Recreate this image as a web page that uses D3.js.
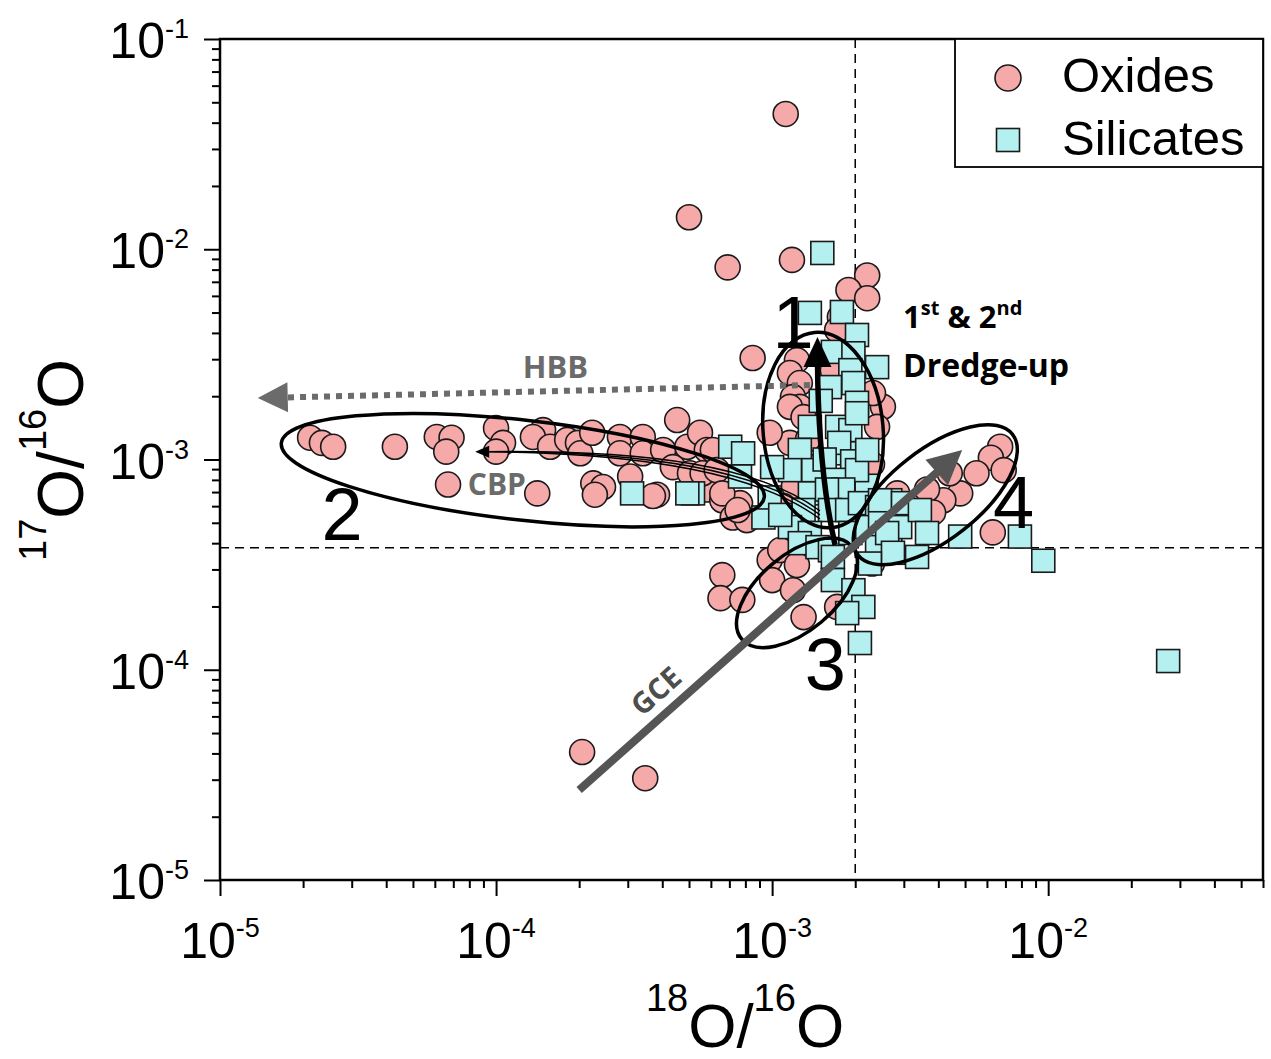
<!DOCTYPE html>
<html><head><meta charset="utf-8">
<script src="https://cdn.jsdelivr.net/npm/d3@7"></script>
<style>body{margin:0;background:#fff}svg{display:block}</style>
</head><body>
<svg id="c" width="1271" height="1059"></svg>
<script>
// ---------------- DATA ----------------
const xMajorTicks = [1e-5, 1e-4, 1e-3, 1e-2];
const xTickExponents = ["-5", "-4", "-3", "-2"];
const yMajorTicks = [1e-5, 1e-4, 1e-3, 1e-2, 1e-1];
const yTickExponents = ["-5", "-4", "-3", "-2", "-1"];
const seriesNames = ["Oxides", "Silicates"];
const solar18 = 2.0e-3;   // vertical dashed reference
const solar17 = 3.8e-4;   // horizontal dashed reference

// [18O/16O, 17O/16O]
const oxides = [
 [1.12e-3,4.4e-2],[5.0e-4,1.42e-2],[6.9e-4,8.2e-3],[1.18e-3,8.9e-3],[2.21e-3,7.5e-3],
 [1.89e-3,6.4e-3],[2.21e-3,5.85e-3],[1.76e-3,4.76e-3],[1.72e-3,4.13e-3],[8.5e-4,3.04e-3],
 [1.23e-3,2.97e-3],[1.16e-3,2.58e-3],[1.26e-3,2.31e-3],[1.19e-3,1.98e-3],[1.26e-3,1.78e-3],
 [1.66e-3,2.66e-3],[2.52e-3,1.78e-3],[2.32e-3,2.07e-3],[1.16e-3,1.78e-3],[1.30e-3,1.59e-3],
 [1.16e-3,1.2e-3],[9.8e-4,1.34e-3],[2.4e-3,1.43e-3],[2.3e-3,9.5e-4],[1.35e-3,1.25e-3],
 [1.5e-3,9.5e-4],[1.2e-3,7.5e-4],[1.1e-3,6.0e-4],
 [9.8e-4,3.33e-4],[1.07e-3,3.71e-4],[1.0e-3,2.67e-4],[1.23e-3,3.15e-4],[1.19e-3,2.39e-4],
 [1.30e-3,1.78e-4],[1.72e-3,1.99e-4],[6.6e-4,2.82e-4],[6.5e-4,2.19e-4],[7.8e-4,2.15e-4],
 [2.3e-3,3.2e-4],
 [2.12e-5,1.27e-3],[2.34e-5,1.2e-3],[2.57e-5,1.15e-3],[4.3e-5,1.15e-3],[6.1e-5,1.28e-3],
 [6.9e-5,1.27e-3],[6.6e-5,1.09e-3],[1.0e-4,1.41e-3],[1.06e-4,1.2e-3],[1.0e-4,1.09e-3],
 [6.7e-5,7.6e-4],[1.41e-4,6.9e-4],[1.48e-4,1.38e-3],[1.36e-4,1.28e-3],[1.57e-4,1.15e-3],
 [1.81e-4,1.24e-3],[1.98e-4,1.2e-3],[2.02e-4,1.07e-3],[2.23e-4,1.34e-3],[2.81e-4,1.28e-3],
 [2.81e-4,1.07e-3],[3.4e-4,1.28e-3],[3.4e-4,1.07e-3],[4.53e-4,1.54e-3],[4.03e-4,1.11e-3],
 [4.93e-4,1.15e-3],[5.48e-4,1.34e-3],[5.8e-4,1.11e-3],[4.37e-4,9.2e-4],[5.04e-4,8.6e-4],
 [3.06e-4,8.3e-4],[2.25e-4,7.7e-4],[2.44e-4,7.4e-4],[2.28e-4,6.8e-4],[3.83e-4,6.8e-4],
 [5.8e-4,7.2e-4],[6.1e-4,1.11e-3],[5.6e-4,8.6e-4],[6.6e-4,6.4e-4],[7.65e-4,6.2e-4],
 [7.2e-4,5.3e-4],[8.1e-4,5.15e-4],[6.3e-4,8.9e-4],[6.6e-4,6.9e-4],[7.5e-4,5.75e-4],
 [3.7e-4,6.7e-4],
 [6.7e-3,1.15e-3],[6.2e-3,1.02e-3],[6.9e-3,8.9e-4],[5.5e-3,8.6e-4],[4.8e-3,6.9e-4],
 [4.17e-3,6.4e-4],[4.4e-3,8.6e-4],[2.84e-3,6.9e-4],[3.64e-3,7.2e-4],[3.83e-3,5.6e-4],
 [6.3e-3,4.5e-4],
 [2.05e-4,4.06e-5],[3.47e-4,3.05e-5]
];
const silicates = [
 [1.52e-3,9.6e-3],[1.37e-3,4.98e-3],[1.79e-3,5.03e-3],[2.03e-3,3.91e-3],[1.66e-3,3.25e-3],
 [1.97e-3,3.2e-3],[2.4e-3,2.75e-3],[1.92e-3,2.66e-3],[1.62e-3,2.21e-3],[1.97e-3,2.31e-3],
 [1.5e-3,1.9e-3],[2.03e-3,1.86e-3],[1.37e-3,1.43e-3],[1.26e-3,1.11e-3],[1.16e-3,8.9e-4],
 [1.41e-3,8.9e-4],[1.72e-3,1.43e-3],[1.92e-3,1.38e-3],[2.03e-3,1.66e-3],[1.87e-3,1.07e-3],
 [1.75e-3,1.2e-3],[1.55e-3,1.0e-3],[1.95e-3,9.8e-4],[1.7e-3,8.0e-4],[2.2e-3,7.5e-4],
 [2.03e-3,8.9e-4],[2.21e-3,1.11e-3],[1.81e-3,7.2e-4],[1.37e-3,6.9e-4],[1.58e-3,7.2e-4],
 [1.30e-3,5.75e-4],[1.62e-3,5.75e-4],[1.87e-3,5.75e-4],[2.08e-3,6.2e-4],[2.4e-3,5.94e-4],
 [2.68e-3,6.4e-4],[1.16e-3,4.77e-4],[1.37e-3,4.47e-4],[1.26e-3,4.0e-4],[1.46e-3,3.83e-4],
 [1.62e-3,3.7e-4],[1.92e-3,4.47e-4],[2.21e-3,4.77e-4],[2.46e-3,5.15e-4],[2.68e-3,4.1e-4],
 [2.4e-3,3.83e-4],[7.05e-4,1.15e-3],[7.85e-4,1.07e-3],[7.65e-4,8.3e-4],[5.17e-4,6.9e-4],
 [9.3e-4,5.3e-4],[3.11e-4,6.9e-4],[4.93e-4,6.9e-4],[9.8e-4,6.6e-4],[1.07e-3,5.45e-4],
 [1.0e-3,9.2e-4],[2.46e-3,6.4e-4],[2.98e-3,6.2e-4],[2.91e-3,4.77e-4],[2.61e-3,4.47e-4],
 [3.43e-3,5.75e-4],[3.64e-3,4.47e-4],[2.74e-3,3.6e-4],[3.35e-3,3.44e-4],[4.8e-3,4.3e-4],
 [7.9e-3,4.3e-4],[9.6e-3,3.3e-4],[2.72e-2,1.1e-4],[1.66e-3,3.44e-4],[1.66e-3,2.67e-4],
 [1.97e-3,2.39e-4],[2.14e-3,1.99e-4],[1.87e-3,1.86e-4],[2.08e-3,1.34e-4],[2.26e-3,3.2e-4]
];

// Annotation anchors (data units)
const ellipses = [
 {cx:1.53e-3, cy:1.38e-3, rx:60, ry:98, rot:-5},
 {cx:1.25e-4, cy:8.9e-4, rx:243, ry:50, rot:6.4},
 {cx:1.23e-3, cy:2.32e-4, rx:72, ry:38, rot:-40},
 {cx:3.9e-3, cy:6.8e-4, rx:98, ry:45, rot:-38}
];
const groupLabels = [
 {t:"1", x:1.19e-3, y:3.39e-3},
 {t:"2", x:2.77e-5, y:4.14e-4},
 {t:"3", x:1.56e-3, y:8.0e-5},
 {t:"4", x:7.5e-3, y:4.72e-4}
];
const dredgeArrow = {from:[1.69e-3,3.92e-4], ctrl:[1.47e-3,8.9e-4], to:[1.46e-3,3.83e-3]};
const hbbArrow = {from:[1.37e-3,2.26e-3], to:[1.37e-5,1.96e-3]};
const cbpArrow = {from:[1.49e-3,5.45e-4], c1:[3.6e-4,1.09e-3], c2:[9.0e-4,8.9e-4], to:[8.4e-5,1.09e-3]};
const gceArrow = {from:[2.0e-4,2.68e-5], to:[4.88e-3,1.11e-3]};

// ---------------- CHART ----------------
const svg = d3.select("#c");
const L=220, R=1263, T=39, B=880;
const x = d3.scaleLog().domain([1e-5, 6e-2]).range([L, R]);
const y = d3.scaleLog().domain([1e-5, 1e-1]).range([B, T]);
const FONT = "'Liberation Sans', Arial, sans-serif";
const BOLD = "'Open Sans', 'Noto Sans', sans-serif";

// minor ticks
const xMinor = [], yMinor = [];
[-5,-4,-3,-2].forEach(e => { for (let k=2;k<=9;k++){ const v=k*Math.pow(10,e); if (v<=6e-2+1e-12) xMinor.push(v);} });
[-5,-4,-3,-2].forEach(e => { for (let k=2;k<=9;k++) yMinor.push(k*Math.pow(10,e)); });

function styleAxis(g){ g.select(".domain").remove(); g.selectAll("line").attr("stroke","#000").attr("stroke-width",2); g.selectAll("text").remove(); }
svg.append("g").attr("transform",`translate(0,${B})`).call(d3.axisBottom(x).tickValues(xMinor).tickSize(8).tickFormat("")).call(styleAxis);
svg.append("g").attr("transform",`translate(0,${B})`).call(d3.axisBottom(x).tickValues(xMajorTicks).tickSize(16).tickFormat("")).call(styleAxis);
svg.append("g").attr("transform",`translate(${L},0)`).call(d3.axisLeft(y).tickValues(yMinor).tickSize(8).tickFormat("")).call(styleAxis);
svg.append("g").attr("transform",`translate(${L},0)`).call(d3.axisLeft(y).tickValues(yMajorTicks).tickSize(16).tickFormat("")).call(styleAxis);

// tick labels
xMajorTicks.forEach((v,i) => {
  const t = svg.append("text").attr("x", x(v)).attr("y", 958).attr("text-anchor","middle")
    .attr("font-family",FONT).attr("font-size",50).attr("fill","#000");
  t.append("tspan").text("10");
  t.append("tspan").attr("font-size",27).attr("dy",-21).text(xTickExponents[i]);
});
yMajorTicks.forEach((v,i) => {
  const t = svg.append("text").attr("x", 189).attr("y", y(v)+19).attr("text-anchor","end")
    .attr("font-family",FONT).attr("font-size",50).attr("fill","#000");
  t.append("tspan").text("10");
  t.append("tspan").attr("font-size",27).attr("dy",-20).text(yTickExponents[i]);
});

// axis titles
(function(){
  const t = svg.append("text").attr("x",745).attr("y",1047).attr("text-anchor","middle")
    .attr("font-family",FONT).attr("font-size",62).attr("fill","#000");
  t.append("tspan").attr("font-size",38).attr("dy",-36).text("18");
  t.append("tspan").attr("dy",36).text("O/");
  t.append("tspan").attr("font-size",38).attr("dy",-36).text("16");
  t.append("tspan").attr("dy",36).text("O");
  const u = svg.append("text").attr("transform","translate(83,460) rotate(-90)").attr("text-anchor","middle")
    .attr("font-family",FONT).attr("font-size",64).attr("fill","#000");
  u.append("tspan").attr("font-size",38).attr("dy",-37).text("17");
  u.append("tspan").attr("dy",37).text("O/");
  u.append("tspan").attr("font-size",38).attr("dy",-37).text("16");
  u.append("tspan").attr("dy",37).text("O");
})();

// reference dashed lines
svg.append("line").attr("x1",x(solar18)).attr("x2",x(solar18)).attr("y1",T).attr("y2",B)
  .attr("stroke","#000").attr("stroke-width",1.5).attr("stroke-dasharray","9,6");
svg.append("line").attr("x1",L).attr("x2",R).attr("y1",y(solar17)).attr("y2",y(solar17))
  .attr("stroke","#000").attr("stroke-width",1.5).attr("stroke-dasharray","9,6");

// data
svg.append("g").selectAll("circle").data(oxides).join("circle")
  .attr("cx",d=>x(d[0])).attr("cy",d=>y(d[1])).attr("r",12.5)
  .attr("fill","#f5a9a9").attr("stroke","#1a1a1a").attr("stroke-width",1.6);
const S=23;
svg.append("g").selectAll("rect").data(silicates).join("rect")
  .attr("x",d=>x(d[0])-S/2).attr("y",d=>y(d[1])-S/2).attr("width",S).attr("height",S)
  .attr("fill","#b4f0f0").attr("stroke","#1a1a1a").attr("stroke-width",1.6);

// annotations: ellipses
ellipses.forEach(e => {
  svg.append("ellipse").attr("transform",`translate(${x(e.cx)},${y(e.cy)}) rotate(${e.rot})`)
    .attr("rx",e.rx).attr("ry",e.ry).attr("fill","none").attr("stroke","#000").attr("stroke-width",3.5);
});

function head(tip, from, len, half, color){
  const dx = tip[0]-from[0], dy = tip[1]-from[1], d = Math.hypot(dx,dy), ux=dx/d, uy=dy/d;
  const bx = tip[0]-ux*len, by = tip[1]-uy*len;
  svg.append("path").attr("d",`M${tip[0]},${tip[1]}L${bx-uy*half},${by+ux*half}L${bx+uy*half},${by-ux*half}Z`).attr("fill",color);
}
const P = p => [x(p[0]), y(p[1])];

// HBB dotted arrow
(function(){
  const a=P(hbbArrow.from), b=P(hbbArrow.to);
  svg.append("line").attr("x1",a[0]).attr("y1",a[1]).attr("x2",b[0]+28).attr("y2",b[1]-0.6)
    .attr("stroke","#6b6b6b").attr("stroke-width",6).attr("stroke-dasharray","6,6");
  head(b, a, 30, 15, "#6b6b6b");
  svg.append("text").attr("x",x(1.64e-4)).attr("y",y(2.44e-3)).attr("text-anchor","middle")
    .attr("font-family",BOLD).attr("font-weight",700).attr("font-size",31).attr("fill","#6b6b6b").text("HBB");
})();

// CBP thin arrows
(function(){
  const a=P(cbpArrow.from), c1=P(cbpArrow.c1), c2=P(cbpArrow.c2), b=P(cbpArrow.to);
  [-4,0,4].forEach(o => {
    svg.append("path").attr("d",`M${a[0]},${a[1]+o}C${c2[0]},${c2[1]+o} ${c1[0]},${c1[1]+o*0.5} ${b[0]+12},${b[1]}`)
      .attr("fill","none").attr("stroke","#000").attr("stroke-width",1.4);
  });
  head(b, [b[0]+20,b[1]], 14, 6, "#000");
  svg.append("text").attr("x",x(7.9e-5)).attr("y",y(6.8e-4)).attr("text-anchor","start")
    .attr("font-family",BOLD).attr("font-weight",700).attr("font-size",30).attr("fill","#6b6b6b").text("CBP");
})();

// Dredge-up arrow
(function(){
  const a=P(dredgeArrow.from), c=P(dredgeArrow.ctrl), b=P(dredgeArrow.to);
  svg.append("path").attr("d",`M${a[0]},${a[1]}Q${c[0]},${c[1]} ${b[0]},${b[1]+25}`)
    .attr("fill","none").attr("stroke","#000").attr("stroke-width",5.5);
  head(b, [b[0],b[1]+40], 30, 14, "#000");
})();

// GCE arrow
(function(){
  const a=P(gceArrow.from), b=P(gceArrow.to);
  const dx=b[0]-a[0], dy=b[1]-a[1], d=Math.hypot(dx,dy);
  svg.append("line").attr("x1",a[0]).attr("y1",a[1]).attr("x2",b[0]-dx/d*28).attr("y2",b[1]-dy/d*28)
    .attr("stroke","#555").attr("stroke-width",8);
  head(b, a, 34, 17, "#555");
  const ang = Math.atan2(dy,dx)*180/Math.PI;
  svg.append("text").attr("transform",`translate(${x(3.77e-4)},${y(8.0e-5)}) rotate(${ang})`)
    .attr("text-anchor","middle").attr("dominant-baseline","central")
    .attr("font-family",BOLD).attr("font-weight",700).attr("font-size",29).attr("fill","#4d4d4d").text("GCE");
})();

// group numbers
groupLabels.forEach(g => {
  svg.append("text").attr("x",x(g.x)).attr("y",y(g.y)).attr("text-anchor","middle")
    .attr("font-family",FONT).attr("font-size",74).attr("fill","#000").text(g.t);
});

// dredge-up label
(function(){
  const t1 = svg.append("text").attr("x",x(2.98e-3)).attr("y",y(4.2e-3))
    .attr("font-family",BOLD).attr("font-weight",700).attr("font-size",31).attr("fill","#000");
  t1.append("tspan").text("1");
  t1.append("tspan").attr("font-size",20).attr("dy",-13).text("st");
  t1.append("tspan").attr("dy",13).text(" & 2");
  t1.append("tspan").attr("font-size",20).attr("dy",-13).text("nd");
  svg.append("text").attr("x",x(2.98e-3)).attr("y",y(2.47e-3))
    .attr("font-family",BOLD).attr("font-weight",700).attr("font-size",32).attr("fill","#000").text("Dredge-up");
})();

// frame
svg.append("rect").attr("x",L).attr("y",T).attr("width",R-L).attr("height",B-T)
  .attr("fill","none").attr("stroke","#000").attr("stroke-width",2.5);

// legend
(function(){
  const g = svg.append("g");
  g.append("rect").attr("x",955).attr("y",T).attr("width",R-955).attr("height",128)
    .attr("fill","#fff").attr("stroke","#000").attr("stroke-width",1.8);
  g.append("circle").attr("cx",1008).attr("cy",78).attr("r",13)
    .attr("fill","#f5a9a9").attr("stroke","#1a1a1a").attr("stroke-width",1.6);
  g.append("rect").attr("x",1008-11.5).attr("y",140-11.5).attr("width",23).attr("height",23)
    .attr("fill","#b4f0f0").attr("stroke","#1a1a1a").attr("stroke-width",1.6);
  g.append("text").attr("x",1062).attr("y",92).attr("font-family",FONT).attr("font-size",49).text(seriesNames[0]);
  g.append("text").attr("x",1062).attr("y",155).attr("font-family",FONT).attr("font-size",49).text(seriesNames[1]);
})();
</script>
</body></html>
